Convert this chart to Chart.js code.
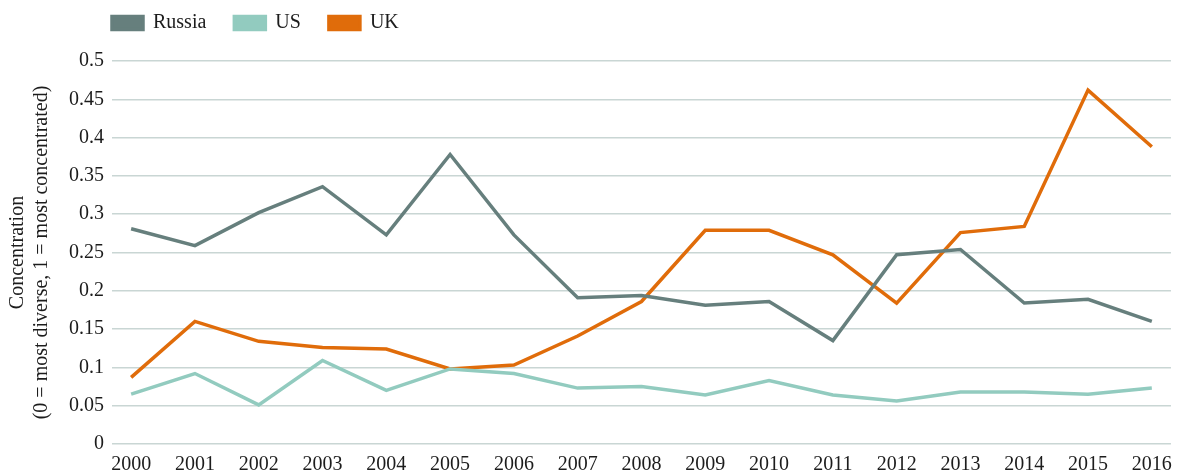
<!DOCTYPE html>
<html>
<head>
<meta charset="utf-8">
<script src="https://cdn.jsdelivr.net/npm/chart.js@4"></script>
<style>
  body { margin: 0; background: #fff; }
</style>
</head>
<body>
<canvas id="myChart" width="1181" height="475"></canvas>
<script>
const years = [2000, 2001, 2002, 2003, 2004, 2005, 2006, 2007, 2008, 2009, 2010, 2011, 2012, 2013, 2014, 2015, 2016];
const russia = [0.281, 0.259, 0.302, 0.336, 0.273, 0.378, 0.273, 0.191, 0.194, 0.181, 0.186, 0.135, 0.247, 0.254, 0.184, 0.189, 0.160];
const us = [0.065, 0.092, 0.051, 0.109, 0.070, 0.098, 0.092, 0.073, 0.075, 0.064, 0.083, 0.064, 0.056, 0.068, 0.068, 0.065, 0.073];
const uk = [0.087, 0.160, 0.134, 0.126, 0.124, 0.098, 0.103, 0.141, 0.186, 0.279, 0.279, 0.247, 0.184, 0.276, 0.284, 0.462, 0.388];
const yTicks = [0, 0.05, 0.1, 0.15, 0.2, 0.25, 0.3, 0.35, 0.4, 0.45, 0.5];

const FONT = "'Liberation Serif', serif";
const TEXT = "#1c1c1c";

function points(values) {
  return years.map((y, i) => ({ x: y, y: values[i] }));
}

function line(label, values, color) {
  return {
    label: label,
    data: points(values),
    borderColor: color,
    backgroundColor: color,
    borderWidth: 3.5,
    pointRadius: 0,
    tension: 0,
    fill: false,
  };
}

// legend sits up-left of where chart.js puts it, move it after layout
const legendShift = {
  id: "legendShift",
  afterLayout(chart) {
    const lg = chart.legend;
    lg.left -= 28;
    lg.right -= 28;
    lg.top -= 18;
    lg.bottom -= 18;
  },
};

const cfg = {
  type: "line",
  data: {
    datasets: [
      line("Russia", russia, "#667f7d"),
      line("US", us, "#92cbbf"),
      line("UK", uk, "#e06c0a"),
    ],
  },
  options: {
    responsive: false,
    animation: false,
    layout: { padding: { left: 6, right: 9, top: 3, bottom: -11 } },
    plugins: {
      legend: {
        display: true,
        position: "top",
        align: "start",
        fullSize: false,
        labels: {
          boxWidth: 31,
          boxHeight: 13,
          padding: 28,
          color: TEXT,
          font: { family: FONT, size: 20 },
        },
      },
      tooltip: { enabled: false },
    },
    scales: {
      x: {
        type: "linear",
        min: 1999.7,
        max: 2016.3,
        afterBuildTicks: (axis) => {
          axis.ticks = years.map((v) => ({ value: v }));
        },
        grid: { display: false, drawTicks: false },
        border: { display: false },
        ticks: {
          color: TEXT,
          padding: 9,
          maxRotation: 0,
          autoSkip: false,
          font: { family: FONT, size: 20 },
          callback: (v) => String(v),
        },
      },
      y: {
        min: 0,
        max: 0.5,
        afterBuildTicks: (axis) => {
          axis.ticks = yTicks.map((v) => ({ value: v }));
        },
        grid: { color: "#c9d6d4", lineWidth: 1.5, drawTicks: false },
        border: { display: false },
        ticks: {
          color: TEXT,
          padding: 8,
          font: { family: FONT, size: 20 },
          callback: (v) => String(+v.toFixed(2)),
        },
        title: {
          display: true,
          text: ["Concentration", "(0 = most diverse, 1 = most concentrated)"],
          color: TEXT,
          font: { family: FONT, size: 20, lineHeight: 1.2 },
          padding: { top: 0, bottom: 7 },
        },
      },
    },
  },
  plugins: [legendShift],
};

new Chart(document.getElementById("myChart"), cfg);
</script>
</body>
</html>
